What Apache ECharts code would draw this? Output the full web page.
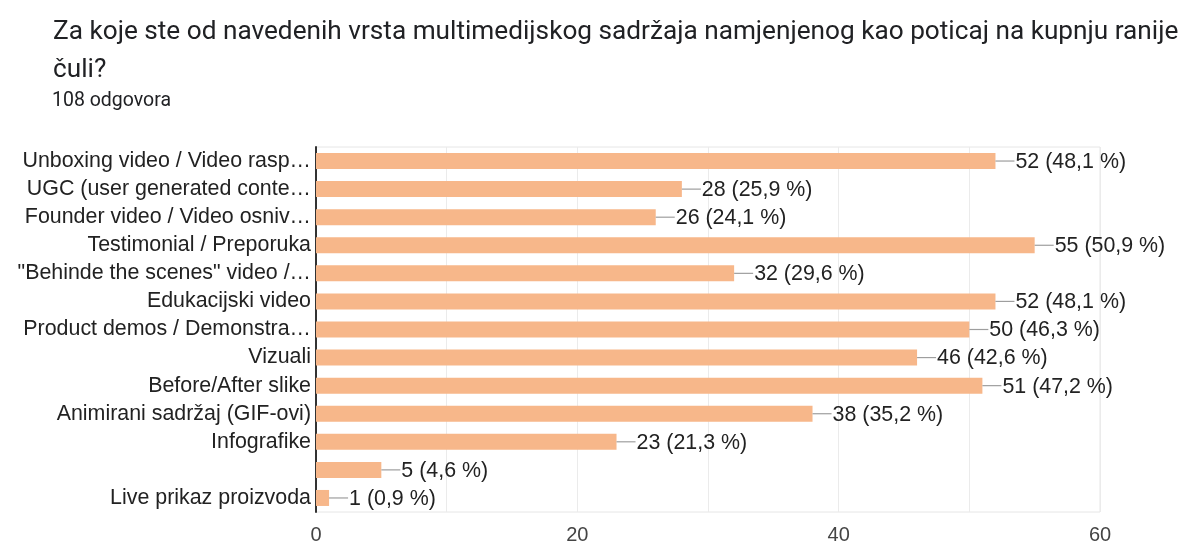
<!DOCTYPE html>
<html>
<head>
<meta charset="utf-8">
<script src="https://cdn.jsdelivr.net/npm/echarts@6/dist/echarts.min.js"></script>
<style>
html,body{margin:0;padding:0;background:#fff;}
#chart{width:1186px;height:546px;}
</style>
</head>
<body>
<div id="chart"></div>
<script>
const titleText = 'Za koje ste od navedenih vrsta multimedijskog sadržaja namjenjenog kao poticaj na kupnju ranije\nčuli?';
const subtitleText = '108 odgovora';
const categories = [
  'Unboxing video / Video rasp…',
  'UGC (user generated conte…',
  'Founder video / Video osniv…',
  'Testimonial / Preporuka',
  '"Behinde the scenes" video /…',
  'Edukacijski video',
  'Product demos / Demonstra…',
  'Vizuali',
  'Before/After slike',
  'Animirani sadržaj (GIF-ovi)',
  'Infografike',
  '',
  'Live prikaz proizvoda'
];
const counts = [52, 28, 26, 55, 32, 52, 50, 46, 51, 38, 23, 5, 1];
const percents = ['48,1', '25,9', '24,1', '50,9', '29,6', '48,1', '46,3', '42,6', '47,2', '35,2', '21,3', '4,6', '0,9'];
const xTickLabels = [0, 20, 40, 60];

const chart = echarts.init(document.getElementById('chart'), null, {renderer: 'canvas'});
const labelFont = 'Liberation Sans, Arial, sans-serif';

const option = {
  animation: false,
  backgroundColor: '#ffffff',
  title: [
    {
      text: titleText,
      left: 53,
      top: 13,
      padding: 0,
      textStyle: {fontFamily: 'Roboto', fontSize: 26.2, fontWeight: 'normal', color: '#202124', lineHeight: 38}
    },
    {
      text: subtitleText,
      left: 52,
      top: 91,
      padding: 0,
      textStyle: {fontFamily: 'Roboto', fontSize: 19.5, fontWeight: 'normal', color: '#202124'}
    }
  ],
  grid: {
    left: 316, right: 86, top: 147, bottom: 34,
    show: true, borderColor: '#e6e6e6', borderWidth: 1
  },
  xAxis: {
    type: 'value',
    min: 0, max: 60, interval: 10,
    axisLine: {show: false},
    axisTick: {show: false},
    splitLine: {show: true, lineStyle: {color: '#ebebeb', width: 1}},
    axisLabel: {
      margin: 13,
      fontFamily: labelFont, fontSize: 20, color: '#444',
      formatter: v => xTickLabels.includes(v) ? String(v) : ''
    }
  },
  yAxis: {
    type: 'category',
    inverse: true,
    data: categories,
    axisLine: {show: true, lineStyle: {color: '#333', width: 2}},
    axisTick: {show: false},
    splitLine: {show: false},
    axisLabel: {interval: 0, margin: 5, fontFamily: labelFont, fontSize: 21.4, color: '#222'}
  },
  series: [
    {
      type: 'bar',
      data: counts,
      barWidth: 16,
      itemStyle: {color: '#f7b78a'},
      z: 2
    },
    {
      type: 'custom',
      data: counts.map((v, i) => [v, i]),
      encode: {x: 0, y: 1},
      z: 3,
      renderItem: function (params, api) {
        const v = api.value(0);
        const i = api.value(1);
        const p = api.coord([v, i]);
        return {
          type: 'group',
          children: [
            {type: 'line', shape: {x1: p[0], y1: p[1], x2: p[0] + 19, y2: p[1]}, style: {stroke: '#9e9e9e', lineWidth: 1.2}},
            {type: 'text', x: p[0] + 20, y: p[1] + 1, style: {text: counts[i] + ' (' + percents[i] + ' %)', fill: '#222', font: '21.4px ' + labelFont, verticalAlign: 'middle', align: 'left'}}
          ]
        };
      }
    }
  ]
};
chart.setOption(option);
</script>
</body>
</html>
